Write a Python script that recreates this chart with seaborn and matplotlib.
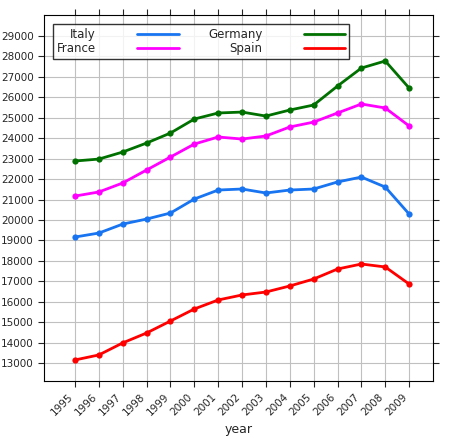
import matplotlib
matplotlib.use("Agg")
import matplotlib.pyplot as plt
import pandas as pd
import seaborn as sns

years = list(range(1995, 2010))
italy = [19165, 19360, 19800, 20045, 20340, 21025, 21465, 21515, 21320, 21465, 21515, 21860, 22100, 21610, 20290]
france = [21170, 21370, 21810, 22445, 23080, 23715, 24060, 23960, 24110, 24550, 24790, 25235, 25675, 25480, 24600]
germany = [22885, 22980, 23325, 23765, 24255, 24940, 25235, 25280, 25085, 25380, 25625, 26555, 27435, 27780, 26455]
spain = [13150, 13395, 13985, 14470, 15055, 15645, 16085, 16330, 16475, 16770, 17110, 17600, 17845, 17700, 16865]

countries = ["Italy", "France", "Germany", "Spain"]
colors = {"Italy": "#1874f0", "France": "#ff00ff", "Germany": "#007000", "Spain": "#ff0000"}
df = pd.DataFrame({"year": years * 4,
                   "value": italy + france + germany + spain,
                   "country": sum([[c] * len(years) for c in countries], [])})

sns.set_style("white")
fig = plt.figure(figsize=(4.55, 4.45), dpi=100)
ax = fig.add_axes([44 / 455, 1 - 381 / 445, 389 / 455, 366 / 445])
sns.lineplot(data=df, x="year", y="value", hue="country", palette=colors,
             marker="o", markersize=4.5, markeredgewidth=0, linewidth=2, ax=ax)
ax.set_xlim(1993.7, 2010.0)
ax.set_ylim(12120, 30030)
ax.set_xticks(years)
ax.set_xticklabels(years, rotation=45, ha="right", fontsize=7.5)
ax.set_yticks(range(13000, 30000, 1000))
ax.tick_params(axis="y", labelsize=7.5)
ax.tick_params(left=True, right=True, bottom=True, top=True, direction="out", length=4)
ax.grid(True, color="#c0c0c0", linewidth=0.8)
for s in ax.spines.values():
    s.set_color("black")
ax.set_xlabel("year", fontsize=9)
ax.set_ylabel("")
ax.legend(ncol=2, loc="upper left", fontsize=8.5, frameon=True, fancybox=False,
          edgecolor="black", handlelength=3.5, columnspacing=2.5, markerfirst=False,
          borderaxespad=0.8, handletextpad=3.5, labelspacing=0.1, borderpad=0.3)
leg = ax.get_legend()
for t in leg.get_texts():
    t.set_ha("left")
for h in leg.legend_handles:
    h.set_marker("")
fig.savefig("out.png", dpi=100)
